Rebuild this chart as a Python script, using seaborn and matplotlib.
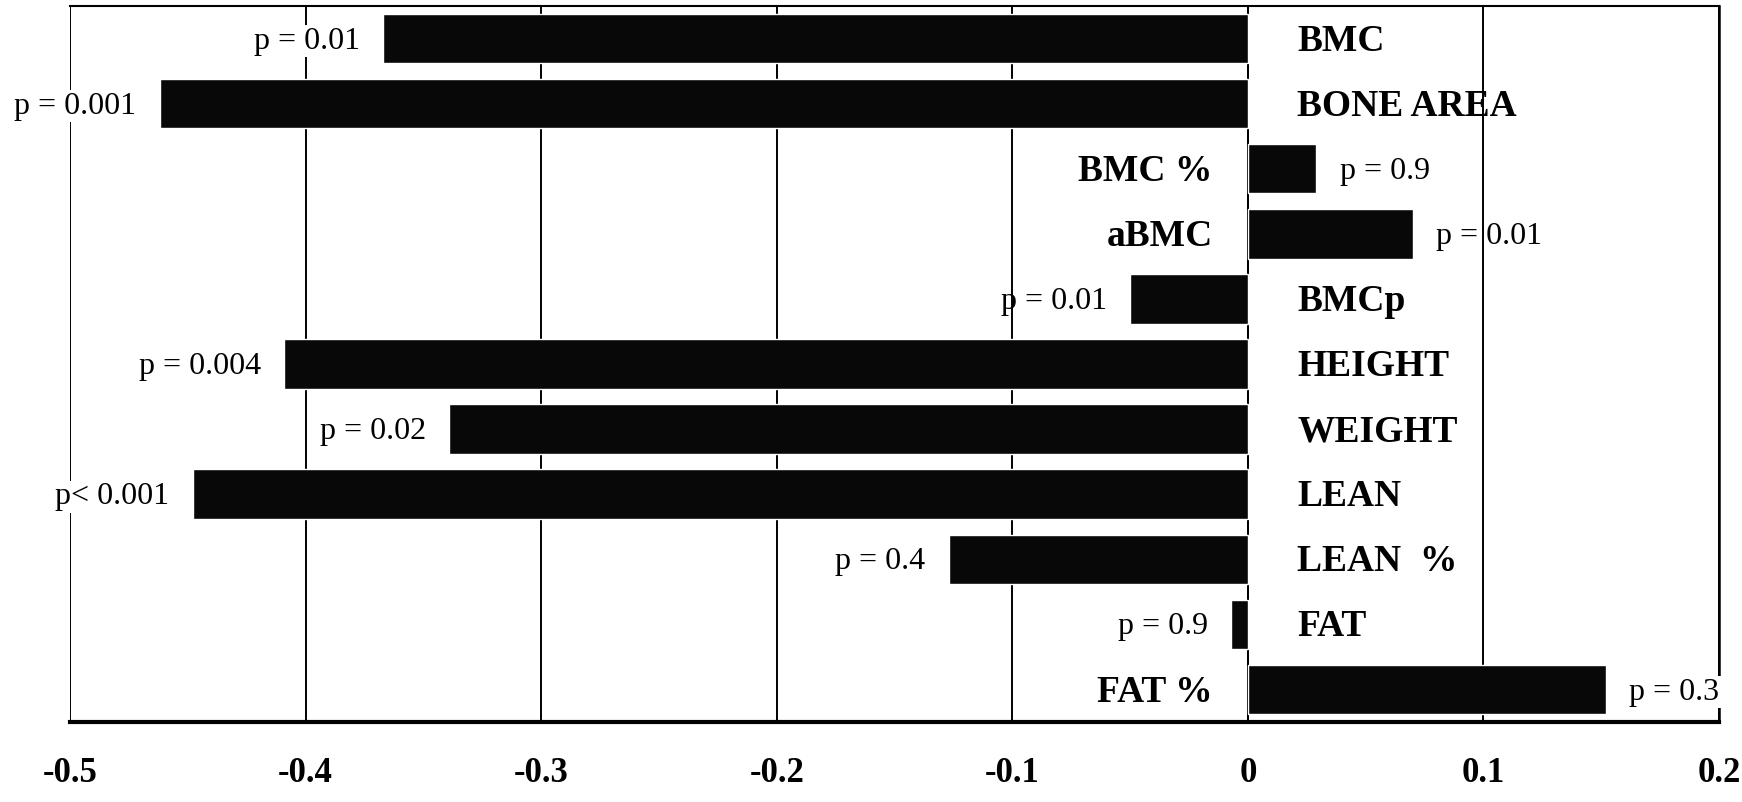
import numpy as np
import pandas as pd
import matplotlib
matplotlib.use("Agg")
import matplotlib.pyplot as plt
import seaborn as sns

# Correlation coefficient of each body-composition measure, with its p-value text
categories = ["BMC", "BONE AREA", "BMC %", "aBMC", "BMCp", "HEIGHT",
              "WEIGHT", "LEAN", "LEAN  %", "FAT", "FAT %"]
coefficients = [-0.367, -0.462, 0.029, 0.070, -0.050, -0.409,
                -0.339, -0.448, -0.127, -0.007, 0.152]
p_labels = ["p = 0.01", "p = 0.001", "p = 0.9", "p = 0.01", "p = 0.01",
            "p = 0.004", "p = 0.02", "p< 0.001", "p = 0.4", "p = 0.9", "p = 0.3"]
x_ticks = [-0.5, -0.4, -0.3, -0.2, -0.1, 0.0, 0.1, 0.2]
x_tick_labels = ["-0.5", "-0.4", "-0.3", "-0.2", "-0.1", "0", "0.1", "0.2"]

# p-value labels that sit over a grid line without hiding it
labels_over_grid = {"aBMC", "BMCp"}

df = pd.DataFrame({"measure": categories, "r": coefficients, "p": p_labels})

sns.set_style("white")
plt.rcParams["font.family"] = ["Liberation Serif", "DejaVu Serif"]
plt.rcParams["text.color"] = "black"

fig = plt.figure(figsize=(17.42, 8.02), dpi=100)
ax = fig.add_axes([0.0402, 0.0998, 0.9466, 0.8927])

sns.barplot(data=df, x="r", y="measure", orient="h", color="#080808",
            saturation=1, width=0.76, ax=ax, zorder=2)

ax.set_xlim(-0.5, 0.2)
ax.set_ylim(10.5, -0.5)
ax.set_xticks(x_ticks)
ax.set_xticklabels(x_tick_labels, fontsize=25, fontweight="bold",
                   color="black")
ax.set_xlabel("")
ax.set_ylabel("")

# category boundaries carry the short ticks on the zero axis
ax.set_yticks(np.arange(0.5, len(categories) - 1, 1.0))
ax.set_yticklabels([])

ax.grid(axis="x", color="black", linewidth=1.4)
ax.grid(axis="y", visible=False)
ax.set_axisbelow(True)

ax.spines["left"].set_position(("data", 0))
ax.spines["left"].set_linewidth(1.3)
ax.spines["left"].set_zorder(1)
ax.spines["bottom"].set_linewidth(3)
ax.spines["top"].set_linewidth(1.5)
ax.spines["right"].set_linewidth(1.8)
for s in ax.spines.values():
    s.set_color("black")

ax.tick_params(axis="x", direction="out", length=13, width=1.5, pad=12,
               colors="black")
ax.tick_params(axis="y", direction="out", length=8, width=1.2, colors="black")

gap = 0.010
for i, row in df.iterrows():
    v = row["r"]
    bbox = None if row["measure"] in labels_over_grid else dict(
        facecolor="white", edgecolor="none", pad=1)
    if v < 0:
        ax.text(v - gap, i + 0.04, row["p"], ha="right", va="center",
                fontsize=23, color="black", bbox=bbox, zorder=3)
        ax.text(0.021, i + 0.04, row["measure"], ha="left", va="center",
                fontsize=27, fontweight="bold", color="black", zorder=3)
    else:
        ax.text(v + gap, i + 0.04, row["p"], ha="left", va="center",
                fontsize=23, color="black", bbox=bbox, zorder=3)
        ax.text(-0.015, i + 0.04, row["measure"], ha="right", va="center",
                fontsize=27, fontweight="bold", color="black", zorder=3)

fig.savefig("out.png", dpi=100, facecolor="white")
